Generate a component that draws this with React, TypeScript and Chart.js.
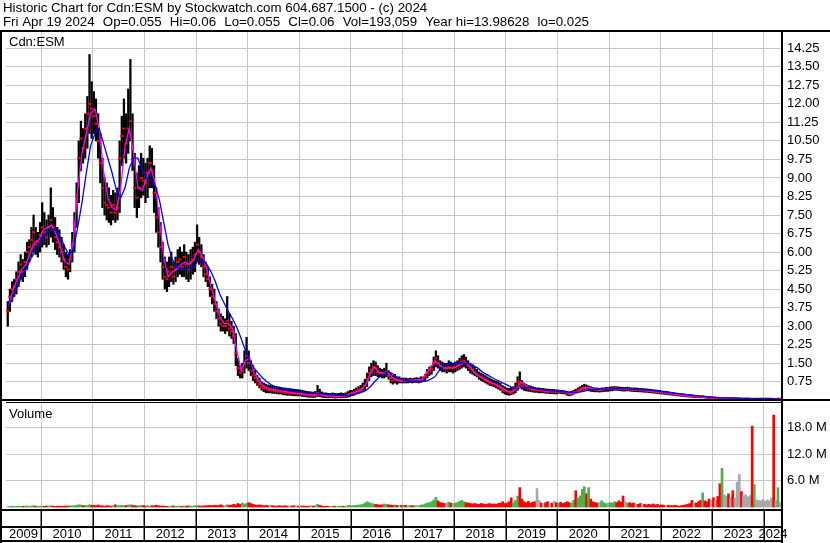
import React, { useEffect, useRef } from "react";
import { Chart, registerables } from "chart.js";

Chart.register(...registerables);

// ---------- text ----------
const TITLE_LINE_1 = "Historic Chart for Cdn:ESM by Stockwatch.com 604.687.1500 - (c) 2024";
const TITLE_LINE_2 = ["Fri Apr 19 2024", "Op=0.055", "Hi=0.06", "Lo=0.055", "Cl=0.06", "Vol=193,059", "Year hi=13.98628", "lo=0.025"];
const PRICE_LABEL = "Cdn:ESM";
const VOLUME_LABEL = "Volume";

// ---------- axes ----------
const YEARS = [2009, 2010, 2011, 2012, 2013, 2014, 2015, 2016, 2017, 2018, 2019, 2020, 2021, 2022, 2023, 2024];
const YEAR_LABELS = ["2009", "2010", "2011", "2012", "2013", "2014", "2015", "2016", "2017", "2018", "2019", "2020", "2021", "2022", "2023", "2024"];
const X_MIN = 2009.32;
const X_MAX = 2024.349;
const FIRST_HALF_MONTH = 8; // data begins May 2009 (half-month index)
const FIRST_MONTH = 4; // moving averages begin May 2009
const PRICE_TICKS = [0.75, 1.5, 2.25, 3, 3.75, 4.5, 5.25, 6, 6.75, 7.5, 8.25, 9, 9.75, 10.5, 11.25, 12, 12.75, 13.5, 14.25];
const VOLUME_TICKS = [6, 12, 18];

// ---------- half-monthly price bars (per year) ----------
const HIGH: number[][] = [
  [4.0, 4.5, 4.8, 4.9, 5.2, 5.6, 5.9, 5.7, 6.0, 6.4, 6.5, 7.0, 7.5, 7.0, 6.8, 7.2],
  [8.0, 7.6, 7.3, 7.5, 8.6, 7.8, 7.4, 7.0, 6.9, 6.6, 6.3, 6.0, 5.9, 6.1, 6.8, 7.6, 8.8, 10.5, 11.3, 11.0, 11.6, 12.3, 14.0, 12.9],
  [12.5, 12.2, 11.6, 10.8, 9.8, 9.0, 8.8, 8.6, 8.3, 8.5, 8.4, 8.6, 10.5, 11.5, 12.2, 11.6, 12.6, 13.8, 11.6, 10.0, 9.2, 9.5, 10.0, 9.8],
  [9.6, 9.8, 10.3, 10.2, 9.5, 8.6, 7.8, 7.2, 6.4, 5.8, 5.6, 5.8, 6.0, 5.6, 5.8, 6.1, 6.2, 6.0, 6.3, 6.0, 5.9, 6.1, 6.2, 6.4],
  [7.1, 6.6, 6.3, 5.9, 5.6, 5.4, 5.0, 4.7, 4.5, 4.0, 3.7, 3.5, 3.4, 3.3, 4.2, 3.5, 3.2, 3.0, 2.7, 1.7, 1.4, 1.5, 2.0, 2.55],
  [2.0, 1.6, 1.4, 1.2, 1.0, 0.9, 0.75, 0.7, 0.65, 0.62, 0.6, 0.58, 0.56, 0.55, 0.54, 0.52, 0.5, 0.5, 0.48, 0.48, 0.46, 0.45, 0.44, 0.43],
  [0.42, 0.4, 0.38, 0.36, 0.35, 0.34, 0.33, 0.36, 0.6, 0.45, 0.34, 0.3, 0.3, 0.28, 0.28, 0.3, 0.28, 0.27, 0.28, 0.3, 0.28, 0.3, 0.35, 0.4],
  [0.4, 0.45, 0.5, 0.55, 0.6, 0.7, 0.85, 1.1, 1.35, 1.5, 1.6, 1.55, 1.4, 1.3, 1.25, 1.3, 1.5, 1.2, 1.1, 1.0, 1.05, 0.95, 0.95, 0.9],
  [0.9, 0.9, 0.88, 0.9, 0.88, 0.9, 0.92, 0.9, 0.95, 0.95, 1.05, 1.25, 1.35, 1.4, 1.75, 2.0, 1.8, 1.6, 1.55, 1.5, 1.5, 1.6, 1.55, 1.5],
  [1.55, 1.6, 1.7, 1.8, 1.85, 1.75, 1.6, 1.5, 1.45, 1.35, 1.25, 1.15, 1.1, 1.05, 1.0, 0.95, 0.9, 0.85, 0.8, 0.78, 0.75, 0.7, 0.6, 0.55],
  [0.5, 0.48, 0.5, 0.55, 0.7, 0.95, 1.15, 0.8, 0.7, 0.65, 0.6, 0.58, 0.55, 0.52, 0.5, 0.5, 0.48, 0.48, 0.46, 0.45, 0.45, 0.44, 0.44, 0.42],
  [0.42, 0.4, 0.4, 0.38, 0.36, 0.34, 0.36, 0.4, 0.45, 0.5, 0.55, 0.6, 0.65, 0.62, 0.58, 0.55, 0.52, 0.5, 0.5, 0.48, 0.5, 0.5, 0.52, 0.52],
  [0.54, 0.55, 0.56, 0.55, 0.54, 0.53, 0.52, 0.52, 0.53, 0.52, 0.5, 0.5, 0.5, 0.49, 0.48, 0.48, 0.47, 0.46, 0.45, 0.44, 0.43, 0.42, 0.41, 0.4],
  [0.38, 0.37, 0.36, 0.35, 0.33, 0.32, 0.3, 0.29, 0.28, 0.27, 0.26, 0.25, 0.24, 0.23, 0.22, 0.21, 0.2, 0.19, 0.18, 0.19, 0.17, 0.16, 0.15, 0.14],
  [0.13, 0.12, 0.11, 0.1, 0.11, 0.11, 0.1, 0.1, 0.1, 0.09, 0.09, 0.09, 0.09, 0.08, 0.08, 0.08, 0.08, 0.08, 0.07, 0.08, 0.08, 0.07, 0.08, 0.08],
  [0.08, 0.08, 0.07, 0.08, 0.07, 0.065, 0.07, 0.065],
];

const LOW: number[][] = [
  [3.0, 3.6, 4.0, 4.2, 4.3, 4.6, 4.9, 4.8, 5.0, 5.3, 5.6, 5.8, 6.0, 5.9, 5.8, 6.0],
  [6.2, 6.3, 6.2, 6.3, 6.6, 6.4, 6.1, 5.9, 5.8, 5.6, 5.3, 5.0, 4.9, 5.2, 5.6, 6.0, 7.0, 8.0, 9.3, 9.6, 9.8, 10.2, 10.8, 10.6],
  [10.8, 10.5, 9.8, 8.8, 7.8, 7.5, 7.3, 7.2, 7.1, 7.3, 7.2, 7.3, 7.6, 9.5, 9.8, 9.6, 10.0, 10.5, 9.3, 7.8, 7.4, 7.8, 8.2, 8.3],
  [8.0, 8.2, 8.6, 8.6, 7.6, 6.8, 6.2, 5.6, 4.9, 4.5, 4.4, 4.6, 4.8, 4.7, 4.8, 5.0, 5.1, 5.0, 5.0, 4.9, 4.8, 4.9, 5.1, 5.2],
  [5.6, 5.5, 5.4, 5.0, 4.8, 4.6, 4.2, 3.9, 3.6, 3.3, 3.0, 2.8, 2.8, 2.7, 2.8, 2.6, 2.5, 2.3, 1.4, 1.0, 0.9, 0.9, 1.1, 1.3],
  [1.2, 1.0, 0.8, 0.7, 0.6, 0.5, 0.4, 0.35, 0.3, 0.3, 0.3, 0.28, 0.27, 0.26, 0.25, 0.25, 0.22, 0.21, 0.2, 0.2, 0.19, 0.18, 0.18, 0.17],
  [0.18, 0.15, 0.14, 0.13, 0.12, 0.12, 0.11, 0.12, 0.15, 0.14, 0.12, 0.11, 0.1, 0.1, 0.1, 0.1, 0.09, 0.09, 0.1, 0.1, 0.1, 0.11, 0.12, 0.14],
  [0.18, 0.2, 0.25, 0.3, 0.32, 0.35, 0.4, 0.55, 0.8, 0.95, 1.0, 1.0, 0.95, 0.95, 0.9, 0.9, 0.95, 0.85, 0.7, 0.65, 0.7, 0.65, 0.7, 0.7],
  [0.7, 0.7, 0.7, 0.72, 0.7, 0.72, 0.72, 0.7, 0.72, 0.75, 0.8, 0.9, 1.0, 1.05, 1.2, 1.35, 1.3, 1.2, 1.15, 1.15, 1.1, 1.15, 1.15, 1.1],
  [1.15, 1.2, 1.25, 1.3, 1.35, 1.3, 1.2, 1.1, 1.05, 1.0, 0.95, 0.85, 0.8, 0.75, 0.7, 0.65, 0.6, 0.58, 0.55, 0.5, 0.45, 0.4, 0.3, 0.25],
  [0.22, 0.2, 0.22, 0.25, 0.3, 0.4, 0.55, 0.45, 0.4, 0.38, 0.36, 0.35, 0.33, 0.32, 0.32, 0.3, 0.3, 0.3, 0.28, 0.28, 0.27, 0.27, 0.26, 0.25],
  [0.28, 0.27, 0.26, 0.25, 0.2, 0.18, 0.2, 0.24, 0.28, 0.32, 0.35, 0.38, 0.4, 0.4, 0.38, 0.36, 0.35, 0.34, 0.34, 0.33, 0.34, 0.35, 0.36, 0.36],
  [0.38, 0.38, 0.4, 0.4, 0.39, 0.38, 0.37, 0.37, 0.38, 0.37, 0.36, 0.35, 0.35, 0.34, 0.34, 0.33, 0.32, 0.32, 0.31, 0.3, 0.29, 0.28, 0.27, 0.26],
  [0.25, 0.24, 0.23, 0.22, 0.21, 0.2, 0.19, 0.18, 0.17, 0.16, 0.15, 0.14, 0.13, 0.13, 0.12, 0.11, 0.1, 0.1, 0.09, 0.1, 0.09, 0.08, 0.08, 0.08],
  [0.08, 0.08, 0.07, 0.07, 0.07, 0.07, 0.07, 0.07, 0.06, 0.06, 0.06, 0.06, 0.06, 0.05, 0.05, 0.05, 0.05, 0.05, 0.04, 0.05, 0.05, 0.05, 0.05, 0.05],
  [0.05, 0.05, 0.05, 0.05, 0.045, 0.045, 0.05, 0.055],
];

const CLOSE: number[][] = [
  [3.6, 4.2, 4.5, 4.6, 4.9, 5.2, 5.5, 5.2, 5.6, 6.0, 6.2, 6.5, 6.8, 6.3, 6.4, 6.7],
  [7.0, 6.8, 6.6, 7.0, 7.3, 7.0, 6.6, 6.4, 6.2, 6.0, 5.7, 5.4, 5.3, 5.7, 6.3, 7.2, 8.3, 9.8, 10.6, 10.2, 11.0, 11.6, 12.0, 11.8],
  [11.5, 11.2, 10.5, 9.6, 8.6, 8.0, 7.9, 7.8, 7.6, 7.9, 7.6, 7.8, 9.8, 10.7, 11.0, 10.4, 11.0, 11.3, 10.2, 8.6, 8.2, 8.6, 9.0, 8.9],
  [8.8, 9.2, 9.6, 9.3, 8.4, 7.4, 6.8, 6.2, 5.4, 5.0, 4.9, 5.2, 5.4, 5.0, 5.3, 5.6, 5.7, 5.4, 5.8, 5.5, 5.3, 5.6, 5.7, 5.9],
  [6.3, 6.0, 5.8, 5.4, 5.1, 4.9, 4.5, 4.2, 3.9, 3.6, 3.3, 3.1, 3.0, 3.0, 3.2, 2.9, 2.8, 2.6, 1.9, 1.3, 1.1, 1.2, 1.5, 1.8],
  [1.5, 1.2, 1.0, 0.9, 0.8, 0.65, 0.55, 0.5, 0.45, 0.42, 0.42, 0.4, 0.38, 0.37, 0.36, 0.35, 0.32, 0.31, 0.3, 0.3, 0.28, 0.27, 0.27, 0.26],
  [0.28, 0.25, 0.24, 0.22, 0.2, 0.2, 0.19, 0.2, 0.3, 0.25, 0.2, 0.18, 0.17, 0.16, 0.16, 0.17, 0.15, 0.15, 0.16, 0.17, 0.16, 0.18, 0.2, 0.25],
  [0.3, 0.32, 0.38, 0.42, 0.45, 0.5, 0.6, 0.85, 1.1, 1.25, 1.35, 1.3, 1.15, 1.1, 1.05, 1.1, 1.15, 1.0, 0.9, 0.8, 0.85, 0.8, 0.8, 0.78],
  [0.8, 0.78, 0.78, 0.8, 0.78, 0.8, 0.8, 0.8, 0.82, 0.85, 0.95, 1.1, 1.2, 1.25, 1.5, 1.7, 1.5, 1.4, 1.35, 1.3, 1.3, 1.35, 1.3, 1.3],
  [1.35, 1.4, 1.45, 1.55, 1.6, 1.5, 1.4, 1.3, 1.25, 1.15, 1.05, 1.0, 0.95, 0.88, 0.82, 0.78, 0.72, 0.68, 0.65, 0.6, 0.55, 0.5, 0.42, 0.38],
  [0.35, 0.32, 0.3, 0.4, 0.5, 0.75, 0.7, 0.6, 0.55, 0.5, 0.48, 0.45, 0.42, 0.4, 0.4, 0.4, 0.38, 0.38, 0.36, 0.35, 0.35, 0.34, 0.34, 0.33],
  [0.35, 0.34, 0.33, 0.32, 0.28, 0.26, 0.28, 0.34, 0.32, 0.4, 0.45, 0.5, 0.52, 0.47, 0.5, 0.46, 0.45, 0.43, 0.42, 0.42, 0.43, 0.44, 0.45, 0.45],
  [0.46, 0.47, 0.48, 0.47, 0.46, 0.45, 0.44, 0.44, 0.45, 0.44, 0.43, 0.42, 0.42, 0.41, 0.4, 0.4, 0.39, 0.38, 0.37, 0.36, 0.35, 0.34, 0.33, 0.32],
  [0.31, 0.3, 0.3, 0.28, 0.27, 0.26, 0.24, 0.23, 0.22, 0.21, 0.2, 0.19, 0.18, 0.17, 0.16, 0.16, 0.15, 0.14, 0.13, 0.14, 0.13, 0.12, 0.11, 0.11],
  [0.1, 0.1, 0.09, 0.08, 0.09, 0.09, 0.09, 0.08, 0.08, 0.07, 0.07, 0.07, 0.07, 0.06, 0.06, 0.06, 0.06, 0.06, 0.05, 0.06, 0.06, 0.06, 0.06, 0.06],
  [0.06, 0.06, 0.06, 0.06, 0.05, 0.05, 0.06, 0.06],
];

// volume in millions of shares, half-monthly
const VOLUME: number[][] = [
  [0.15, 0.1, 0.2, 0.1, 0.15, 0.2, 0.1, 0.15, 0.2, 0.25, 0.15, 0.2, 0.3, 0.2, 0.15, 0.2],
  [0.2, 0.15, 0.25, 0.2, 0.3, 0.2, 0.15, 0.2, 0.2, 0.15, 0.2, 0.25, 0.2, 0.3, 0.25, 0.35, 0.4, 0.5, 0.45, 0.35, 0.4, 0.3, 0.5, 0.4],
  [0.35, 0.3, 0.45, 0.3, 0.25, 0.2, 0.3, 0.25, 0.2, 0.3, 0.5, 0.3, 0.35, 0.4, 0.3, 0.35, 0.45, 0.5, 0.4, 0.3, 0.25, 0.3, 0.35, 0.3],
  [0.25, 0.3, 0.2, 0.3, 0.25, 0.4, 0.3, 0.2, 0.25, 0.2, 0.15, 0.2, 0.2, 0.25, 0.15, 0.2, 0.2, 0.15, 0.2, 0.2, 0.25, 0.2, 0.2, 0.3],
  [0.3, 0.25, 0.2, 0.25, 0.3, 0.3, 0.35, 0.3, 0.4, 0.35, 0.4, 0.5, 0.3, 0.35, 0.5, 0.4, 0.45, 0.6, 0.5, 0.8, 0.6, 0.9, 0.7, 0.8],
  [1.0, 0.8, 0.6, 0.5, 0.4, 0.5, 0.4, 0.3, 0.35, 0.3, 0.4, 0.3, 0.25, 0.2, 0.3, 0.25, 0.2, 0.3, 0.2, 0.25, 0.2, 0.3, 0.25, 0.2],
  [0.2, 0.25, 0.2, 0.15, 0.2, 0.3, 0.2, 0.3, 0.6, 0.4, 0.2, 0.15, 0.2, 0.15, 0.2, 0.15, 0.2, 0.15, 0.2, 0.2, 0.15, 0.2, 0.3, 0.35],
  [0.3, 0.35, 0.4, 0.45, 0.5, 0.6, 0.9, 1.2, 1.0, 0.8, 0.7, 0.6, 0.5, 0.45, 0.5, 0.7, 0.6, 0.5, 0.45, 0.4, 0.45, 0.4, 0.35, 0.4],
  [0.35, 0.4, 0.3, 0.35, 0.3, 0.35, 0.4, 0.35, 0.45, 0.5, 0.7, 0.9, 1.0, 1.2, 1.6, 2.2, 1.4, 1.0, 0.9, 0.8, 0.9, 1.1, 0.9, 0.8],
  [0.9, 1.0, 1.3, 1.5, 1.2, 1.0, 0.9, 0.8, 0.7, 0.8, 0.7, 0.6, 0.8, 0.7, 0.6, 0.7, 0.8, 0.6, 0.7, 0.6, 0.8, 0.9, 1.2, 0.8],
  [0.9, 1.2, 2.1, 1.0, 1.5, 2.5, 4.4, 1.8, 1.2, 1.0, 1.3, 0.9, 1.1, 1.2, 4.2, 1.5, 0.9, 0.8, 1.0, 1.2, 0.8, 0.9, 1.3, 1.0],
  [0.9, 1.1, 0.8, 1.0, 1.2, 1.0, 0.9, 1.5, 3.7, 2.0, 2.5, 4.0, 4.6, 3.0, 4.4, 1.8, 1.2, 1.0, 0.9, 1.1, 1.4, 1.0, 0.8, 0.9],
  [1.0, 0.9, 1.2, 1.0, 1.4, 1.1, 2.5, 1.3, 0.9, 1.0, 0.8, 0.9, 0.7, 0.6, 0.8, 0.7, 0.6, 0.5, 0.6, 0.5, 0.7, 0.5, 0.6, 0.4],
  [0.5, 0.4, 0.3, 0.4, 0.3, 0.3, 0.4, 0.3, 0.2, 0.3, 0.4, 0.5, 0.6, 0.8, 1.5, 1.0, 0.9, 1.2, 1.5, 3.2, 1.4, 1.2, 1.8, 1.5],
  [2.1, 1.5, 2.4, 5.3, 8.8, 2.8, 2.5, 3.0, 2.2, 3.7, 2.0, 5.6, 7.4, 3.5, 2.5, 2.8, 2.3, 2.6, 18.4, 5.1, 1.6, 1.5, 1.4, 1.7],
  [1.3, 1.6, 1.4, 2.0, 20.9, 1.5, 4.4, 1.0],
];

// ---------- monthly moving averages ----------
const MA_SHORT: number[][] = [
  [3.8, 4.5, 4.9, 5.3, 5.5, 6.0, 6.4, 6.5],
  [6.9, 7.0, 7.1, 6.7, 6.2, 5.6, 5.5, 6.5, 8.5, 10.0, 10.8, 11.6],
  [11.8, 11.0, 9.3, 8.2, 7.8, 7.7, 8.6, 10.3, 11.0, 10.0, 8.6, 8.5],
  [9.0, 9.4, 8.8, 7.3, 5.8, 5.0, 5.2, 5.3, 5.5, 5.6, 5.5, 5.7],
  [6.1, 5.8, 5.3, 4.6, 4.0, 3.4, 3.1, 3.1, 2.9, 2.0, 1.2, 1.6],
  [1.7, 1.1, 0.8, 0.6, 0.5, 0.45, 0.42, 0.4, 0.36, 0.33, 0.3, 0.27],
  [0.25, 0.23, 0.22, 0.21, 0.27, 0.22, 0.18, 0.17, 0.16, 0.17, 0.18, 0.22],
  [0.3, 0.35, 0.42, 0.65, 1.1, 1.35, 1.15, 1.1, 1.12, 0.95, 0.82, 0.8],
  [0.8, 0.8, 0.8, 0.82, 0.85, 1.1, 1.3, 1.6, 1.45, 1.3, 1.3, 1.32],
  [1.35, 1.45, 1.55, 1.4, 1.15, 1.0, 0.9, 0.8, 0.72, 0.65, 0.58, 0.45],
  [0.35, 0.35, 0.45, 0.75, 0.62, 0.5, 0.45, 0.42, 0.4, 0.38, 0.36, 0.35],
  [0.35, 0.33, 0.28, 0.27, 0.33, 0.42, 0.52, 0.5, 0.46, 0.43, 0.43, 0.45],
  [0.47, 0.48, 0.46, 0.44, 0.44, 0.43, 0.42, 0.41, 0.39, 0.37, 0.35, 0.33],
  [0.31, 0.29, 0.27, 0.24, 0.22, 0.2, 0.18, 0.17, 0.15, 0.14, 0.12, 0.11],
  [0.1, 0.1, 0.09, 0.09, 0.08, 0.08, 0.07, 0.07, 0.07, 0.06, 0.06, 0.06],
  [0.06, 0.06, 0.06, 0.06],
];

const MA_LONG: number[][] = [
  [3.8, 4.2, 4.6, 5.0, 5.3, 5.7, 6.0, 6.3],
  [6.6, 6.8, 6.9, 6.9, 6.6, 6.2, 5.9, 6.1, 7.0, 8.0, 9.2, 10.3],
  [10.8, 11.0, 10.4, 9.8, 9.2, 8.5, 8.2, 8.6, 9.4, 9.8, 9.8, 9.3],
  [9.0, 8.9, 8.7, 8.1, 7.2, 6.3, 5.7, 5.4, 5.3, 5.3, 5.35, 5.4],
  [5.65, 5.7, 5.5, 5.2, 4.8, 4.3, 3.95, 3.6, 3.3, 2.95, 2.5, 2.0],
  [1.6, 1.3, 1.1, 0.9, 0.75, 0.62, 0.55, 0.5, 0.47, 0.44, 0.4, 0.36],
  [0.33, 0.31, 0.3, 0.28, 0.27, 0.26, 0.24, 0.22, 0.2, 0.2, 0.2, 0.21],
  [0.24, 0.27, 0.32, 0.4, 0.55, 0.75, 0.92, 1.05, 1.15, 1.1, 0.95, 0.85],
  [0.8, 0.78, 0.77, 0.77, 0.76, 0.78, 0.85, 0.95, 1.2, 1.4, 1.45, 1.48],
  [1.5, 1.52, 1.5, 1.48, 1.4, 1.3, 1.15, 1.05, 0.95, 0.85, 0.78, 0.68],
  [0.6, 0.5, 0.47, 0.5, 0.52, 0.5, 0.47, 0.44, 0.42, 0.4, 0.38, 0.36],
  [0.35, 0.34, 0.33, 0.32, 0.32, 0.34, 0.38, 0.42, 0.44, 0.45, 0.45, 0.45],
  [0.46, 0.47, 0.47, 0.46, 0.45, 0.44, 0.43, 0.42, 0.41, 0.4, 0.38, 0.36],
  [0.34, 0.32, 0.3, 0.28, 0.26, 0.24, 0.22, 0.2, 0.18, 0.16, 0.15, 0.13],
  [0.12, 0.11, 0.1, 0.1, 0.09, 0.09, 0.08, 0.08, 0.08, 0.07, 0.07, 0.07],
  [0.07, 0.07, 0.06, 0.06],
];

// ---------- look ----------
const W = 830;
const H = 543;
const FONT_FAMILY = "'Liberation Sans', Arial, sans-serif";
const GRID = "#c8c8c8";
const RED = "#ff0000";
const GREEN = "#4cb04c";
const GRAY = "#a8a8a8";

type P = { x: number; v: number };

function halfMonthPoints(rows: number[][]): P[] {
  const out: P[] = [];
  rows.forEach((row, r) => {
    const start = r === 0 ? FIRST_HALF_MONTH : 0;
    row.forEach((v, j) => out.push({ x: YEARS[r] + (start + j + 0.5) / 24, v }));
  });
  return out;
}

function monthPoints(rows: number[][]): P[] {
  const out: P[] = [];
  rows.forEach((row, r) => {
    const start = r === 0 ? FIRST_MONTH : 0;
    row.forEach((v, j) => out.push({ x: YEARS[r] + (start + j + 0.5) / 12, v }));
  });
  return out;
}

const framePlugin = {
  id: "stockFrame",
  beforeDraw(chart: any) {
    const ctx = chart.ctx;
    ctx.save();
    ctx.fillStyle = "#ffffff";
    ctx.fillRect(0, 0, chart.width, chart.height);
    ctx.restore();
  },
  afterDraw(chart: any) {
    const ctx = chart.ctx;
    const { left, right, top, bottom } = chart.chartArea;
    const yP = chart.scales.y;
    const x = chart.scales.x;
    const x2 = chart.scales.x2;
    const yV = chart.scales.yv;
    const w = chart.width;
    const h = chart.height;
    ctx.save();
    ctx.fillStyle = "#000";
    // outer frame
    ctx.fillRect(0, top - 1, w, 2);
    ctx.fillRect(0, top - 1, 2, h - top + 1);
    ctx.fillRect(right - 1, top - 1, 2, h - top + 1);
    // price / volume separator
    const sep = Math.round(yP.bottom);
    ctx.fillRect(0, sep - 2, w, 2);
    ctx.fillRect(left, sep + 1, right - left, 1);
    // bottom of volume panel
    ctx.fillRect(0, bottom - 1, right + 1, 2);
    // top of label row
    ctx.fillRect(0, Math.round(x2.top) - 1, right + 1, 2);
    // bottom line
    ctx.fillRect(0, h - 3, right + 1, 2);
    // year separators below the plot
    YEARS.slice(1).forEach((yr) => {
      const p = Math.round(x.getPixelForValue(yr));
      ctx.fillRect(p - 0.5, bottom, 1.5, h - bottom - 2);
    });

    // texts
    ctx.textBaseline = "alphabetic";
    ctx.textAlign = "left";
    ctx.font = `13.3px ${FONT_FAMILY}`;
    ctx.fillText(TITLE_LINE_1, 3, 12);
    // second title line: segments spread so that the line ends where the original does
    const lineStart = 3;
    const lineEnd = 589;
    const widths = TITLE_LINE_2.map((s) => ctx.measureText(s).width);
    const total = widths.reduce((a, b) => a + b, 0);
    const gap = (lineEnd - lineStart - total) / (TITLE_LINE_2.length - 1);
    let cx = lineStart;
    TITLE_LINE_2.forEach((s, i) => {
      ctx.fillText(s, cx, 26);
      cx += widths[i] + gap;
    });
    ctx.font = `13px ${FONT_FAMILY}`;
    ctx.fillText(PRICE_LABEL, 9, top + 15);
    ctx.fillText(VOLUME_LABEL, 9, yV.top + 17);
    ctx.restore();
  },
};

export default function App() {
  const ref = useRef<HTMLCanvasElement>(null);

  useEffect(() => {
    const canvas = ref.current;
    if (!canvas) return;
    const hi = halfMonthPoints(HIGH);
    const lo = halfMonthPoints(LOW);
    const cl = halfMonthPoints(CLOSE);
    const vol = halfMonthPoints(VOLUME);
    const maS = monthPoints(MA_SHORT);
    const maL = monthPoints(MA_LONG);

    const volColors = cl.map((p, i) => {
      if (i === 0) return GRAY;
      if (p.v > cl[i - 1].v) return GREEN;
      if (p.v < cl[i - 1].v) return RED;
      return GRAY;
    });

    const labelPositions = YEARS.map((yr) => (Math.max(yr, X_MIN) + Math.min(yr + 1, X_MAX)) / 2);

    const tickFont = { family: FONT_FAMILY, size: 13 };

    const chart = new Chart(canvas, {
      type: "bar",
      data: {
        datasets: [
          {
            type: "line",
            label: "MA long",
            data: maL.map((p) => ({ x: p.x, y: p.v })),
            borderColor: "#0000ff",
            borderWidth: 1.3,
            pointRadius: 0,
            tension: 0,
            xAxisID: "x",
            yAxisID: "y",
            order: 0,
          },
          {
            type: "line",
            label: "MA short",
            data: maS.map((p) => ({ x: p.x, y: p.v })),
            borderColor: "#ff00ff",
            borderWidth: 1.3,
            pointRadius: 0,
            tension: 0,
            xAxisID: "x",
            yAxisID: "y",
            order: 1,
          },
          {
            type: "line",
            label: "Close",
            data: cl.map((p) => ({ x: p.x, y: p.v })),
            showLine: false,
            pointStyle: "line",
            pointRadius: 1.6,
            pointBorderWidth: 2,
            pointBorderColor: RED,
            pointBackgroundColor: RED,
            borderColor: RED,
            xAxisID: "x",
            yAxisID: "y",
            order: 2,
          },
          {
            type: "bar",
            label: "Range",
            data: hi.map((p, i) => ({ x: p.x, y: [lo[i].v, p.v] })),
            backgroundColor: "#000",
            barThickness: 1.6,
            grouped: false,
            xAxisID: "x",
            yAxisID: "y",
            order: 3,
          },
          {
            type: "bar",
            label: "Volume",
            data: vol.map((p) => ({ x: p.x, y: p.v })),
            backgroundColor: volColors,
            barThickness: 2,
            grouped: false,
            xAxisID: "x",
            yAxisID: "yv",
            order: 4,
          },
        ] as any,
      },
      options: {
        responsive: false,
        animation: false,
        devicePixelRatio: 1,
        events: [],
        layout: { padding: { top: 31, left: 2, right: 0, bottom: 0 } },
        plugins: {
          legend: { display: false },
          tooltip: { enabled: false },
          title: { display: false },
        },
        scales: {
          x: {
            type: "linear",
            position: "bottom",
            offset: false,
            min: X_MIN,
            max: X_MAX,
            weight: 0,
            afterBuildTicks: (s: any) => {
              s.ticks = YEARS.slice(1).map((v) => ({ value: v }));
            },
            afterFit: (s: any) => {
              s.height = 17;
            },
            ticks: { display: false },
            grid: { color: GRID, lineWidth: 1, drawTicks: false, offset: false },
            border: { display: false },
          },
          x2: {
            type: "linear",
            position: "bottom",
            offset: false,
            min: X_MIN,
            max: X_MAX,
            weight: 1,
            afterBuildTicks: (s: any) => {
              s.ticks = labelPositions.map((v) => ({ value: v }));
            },
            afterFit: (s: any) => {
              s.height = 16;
            },
            ticks: {
              autoSkip: false,
              maxRotation: 0,
              minRotation: 0,
              padding: 0,
              color: "#000",
              font: tickFont,
              callback: (_v: any, i: number) => YEAR_LABELS[i],
            },
            grid: { display: false, drawTicks: false, offset: false },
            border: { display: false },
          },
          y: {
            type: "linear",
            position: "right",
            stack: "panels",
            stackWeight: 370,
            min: -0.03,
            max: 14.95,
            afterBuildTicks: (s: any) => {
              s.ticks = PRICE_TICKS.map((v) => ({ value: v }));
            },
            afterFit: (s: any) => {
              s.width = 48;
            },
            ticks: {
              autoSkip: false,
              padding: 5,
              color: "#000",
              font: tickFont,
              callback: (v: any) => Number(v).toFixed(2),
            },
            grid: { color: GRID, lineWidth: 1, drawTicks: false },
            border: { display: false },
          },
          yv: {
            type: "linear",
            position: "right",
            stack: "panels",
            stackWeight: 109,
            min: -0.68,
            max: 24.1,
            afterBuildTicks: (s: any) => {
              s.ticks = VOLUME_TICKS.map((v) => ({ value: v }));
            },
            afterFit: (s: any) => {
              s.width = 48;
            },
            ticks: {
              autoSkip: false,
              padding: 5,
              color: "#000",
              font: tickFont,
              callback: (v: any) => Number(v).toFixed(1) + " M",
            },
            grid: { color: GRID, lineWidth: 1, drawTicks: false },
            border: { display: false },
          },
        },
      } as any,
      plugins: [framePlugin],
    });

    return () => chart.destroy();
  }, []);

  return (
    <div style={{ position: "absolute", left: 0, top: 0, width: W, height: H, background: "#fff" }}>
      <canvas ref={ref} width={W} height={H} style={{ display: "block", width: W, height: H }} />
    </div>
  );
}
